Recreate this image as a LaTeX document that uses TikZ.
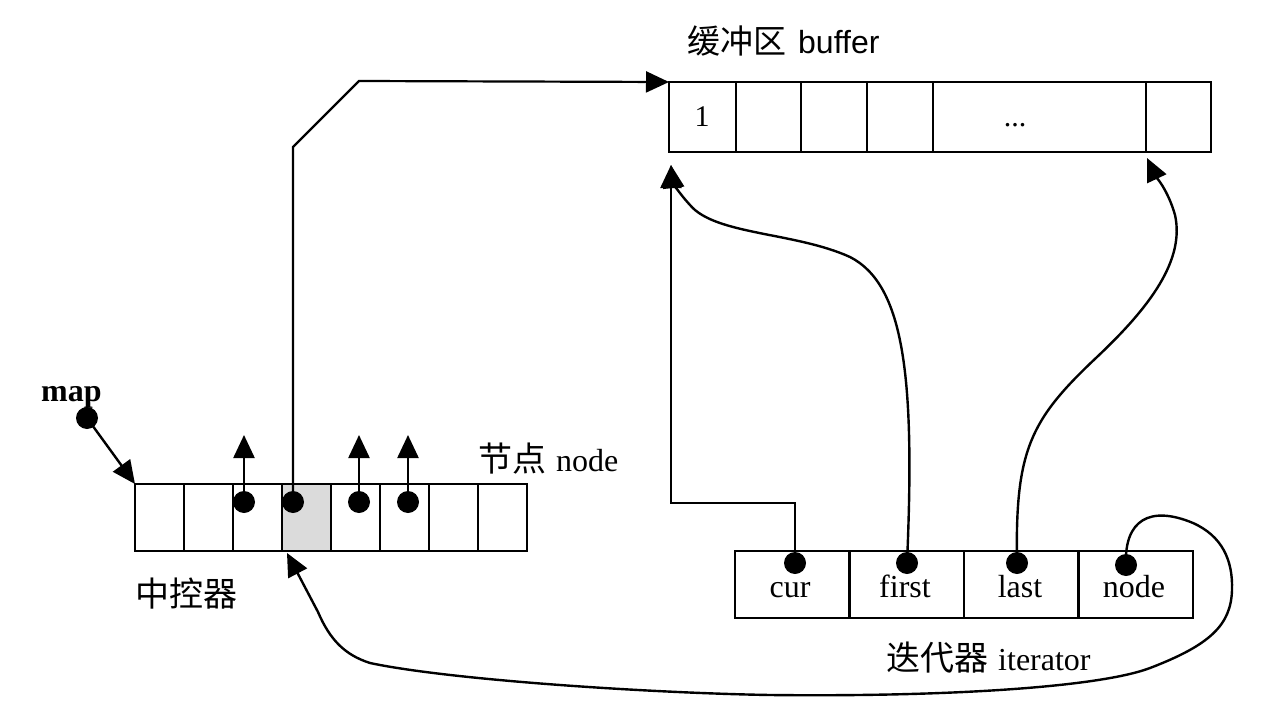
\documentclass[tikz,border=0pt]{standalone}
\usepackage{fontspec}
\setmainfont{Liberation Serif}
\setsansfont{Liberation Sans}
\newfontfamily\cjk{Noto Sans CJK SC}
\usetikzlibrary{arrows.meta}
\begin{document}
\begin{tikzpicture}[x=1pt,y=-1pt,
  bcell/.style={draw,line width=2.2pt,inner sep=0pt,outer sep=0pt,anchor=north west,minimum height=70pt,minimum width=#1},
  ncell/.style={draw,line width=2.4pt,inner sep=0pt,outer sep=0pt,anchor=north west,minimum height=67pt,minimum width=49pt},
  icell/.style={draw,line width=2.4pt,inner sep=0pt,outer sep=0pt,anchor=north west,minimum height=67pt,minimum width=114.5pt},
  dotn/.style={circle,fill=black,inner sep=0pt,minimum size=22pt},
  arr/.style={line width=2.4pt,-{Triangle[width=21pt,length=23pt]}},
  lat/.style={font=\fontsize{32}{36}\selectfont},
  cjkl/.style={font=\fontsize{34}{38}\selectfont\cjk},
]
\fill[white] (0,0) rectangle (1262,728);
\useasboundingbox (0,0) rectangle (1262,728);

% buffer
\node[bcell=67pt] (b1) at (669,82) {};
\node[bcell=65pt] (b2) at (736,82) {};
\node[bcell=66pt] (b3) at (801,82) {};
\node[bcell=66pt] (b4) at (867,82) {};
\node[bcell=213pt] (b5) at (933,82) {};
\node[bcell=65pt] (b6) at (1146,82) {};
\node[anchor=base,inner sep=0pt,font=\fontsize{30}{32}\selectfont] (one) at (702,126) {1};
\node[anchor=base,inner sep=0pt,font=\fontsize{30}{32}\selectfont] (ell) at (1015,126) {...};
\node[anchor=base west,inner sep=0pt] (title) at (687,53) {{\cjk\fontsize{33}{36}\selectfont 缓冲区}\hspace{12pt}{\sffamily\fontsize{32}{36}\selectfont buffer}};

% map (central controller)
\node[ncell] (n1) at (135,484) {};
\node[ncell] (n2) at (184,484) {};
\node[ncell] (n3) at (233,484) {};
\node[ncell,fill=gray!28] (n4) at (282,484) {};
\node[ncell] (n5) at (331,484) {};
\node[ncell] (n6) at (380,484) {};
\node[ncell] (n7) at (429,484) {};
\node[ncell] (n8) at (478,484) {};
\node[anchor=base west,inner sep=0pt,cjkl] (ctl) at (135,606) {中控器};
\node[anchor=base west,inner sep=0pt] (nodelbl) at (478,471) {{\cjk\fontsize{34}{38}\selectfont 节点}\hspace{10pt}{\fontsize{32}{36}\selectfont node}};
\node[anchor=base west,inner sep=0pt,font=\fontsize{32}{36}\selectfont\bfseries] (maplbl) at (41,401) {map};

% iterator
\node[icell] (i1) at (735,551) {};
\node[icell] (i2) at (849.5,551) {};
\node[icell] (i3) at (964,551) {};
\node[icell] (i4) at (1078.5,551) {};
\node[anchor=base,lat] (tcur) at (790,597) {cur};
\node[anchor=base,lat] (tfirst) at (905,597) {first};
\node[anchor=base,lat] (tlast) at (1020,597) {last};
\node[anchor=base,lat] (tnode) at (1134,597) {node};
\node[anchor=base west,inner sep=0pt] (itlbl) at (886,670) {{\cjk\fontsize{34}{38}\selectfont 迭代器}\hspace{10pt}{\fontsize{32}{36}\selectfont iterator}};

% dots
\node[dotn] (mapdot) at (87,418) {};
\node[dotn] (d3) at (244,502) {};
\node[dotn] (d4) at (293,502) {};
\node[dotn] (d5) at (359,502) {};
\node[dotn] (d6) at (408,502) {};
\node[dotn] (dcur) at (795,563) {};
\node[dotn] (dfirst) at (907,563) {};
\node[dotn] (dlast) at (1017,563) {};
\node[dotn] (dnode) at (1126,565) {};

% free ends / bends
\coordinate (t3) at (244,435);
\coordinate (t5) at (359,435);
\coordinate (t6) at (408,435);
\coordinate (up1) at (293,147);
\coordinate (up2) at (359,81);
\coordinate (curmid) at (733,503);
\coordinate (bufin) at (671,165);
\coordinate (lastin) at (1147,158);
\coordinate (ctlin) at (287,553);

% connectors
\draw[arr] (mapdot.center) -- (n1.north west);
\draw[arr] (d3.center) -- (t3);
\draw[arr] (d5.center) -- (t5);
\draw[arr] (d6.center) -- (t6);
\draw[arr,line width=2.2pt] (d4.center) -- (up1) -- (up2) -- (b1.north west);
\draw[arr] (dcur.center) |- (curmid) -| (bufin);
\draw[arr] (dfirst.center) .. controls (915,380) and (905,285) .. (850,257)
  .. controls (795,232) and (715,235) .. (690,205)
  .. controls (678,192) and (673,182) .. (bufin);
\draw[arr] (dlast.center) .. controls (1015,450) and (1030,420) .. (1097,357)
  .. controls (1150,307) and (1185,260) .. (1175,215)
  .. controls (1168,190) and (1155,175) .. (lastin);
\draw[arr] (dnode.center) .. controls (1124,520) and (1150,505) .. (1193,523)
  .. controls (1222,536) and (1233,560) .. (1232,590)
  .. controls (1231,625) and (1210,645) .. (1150,668)
  .. controls (1100,687) and (950,697) .. (770,695)
  .. controls (650,693) and (450,680) .. (370,663)
  .. controls (345,655) and (330,640) .. (318,612)
  -- (ctlin);
\end{tikzpicture}
\end{document}
